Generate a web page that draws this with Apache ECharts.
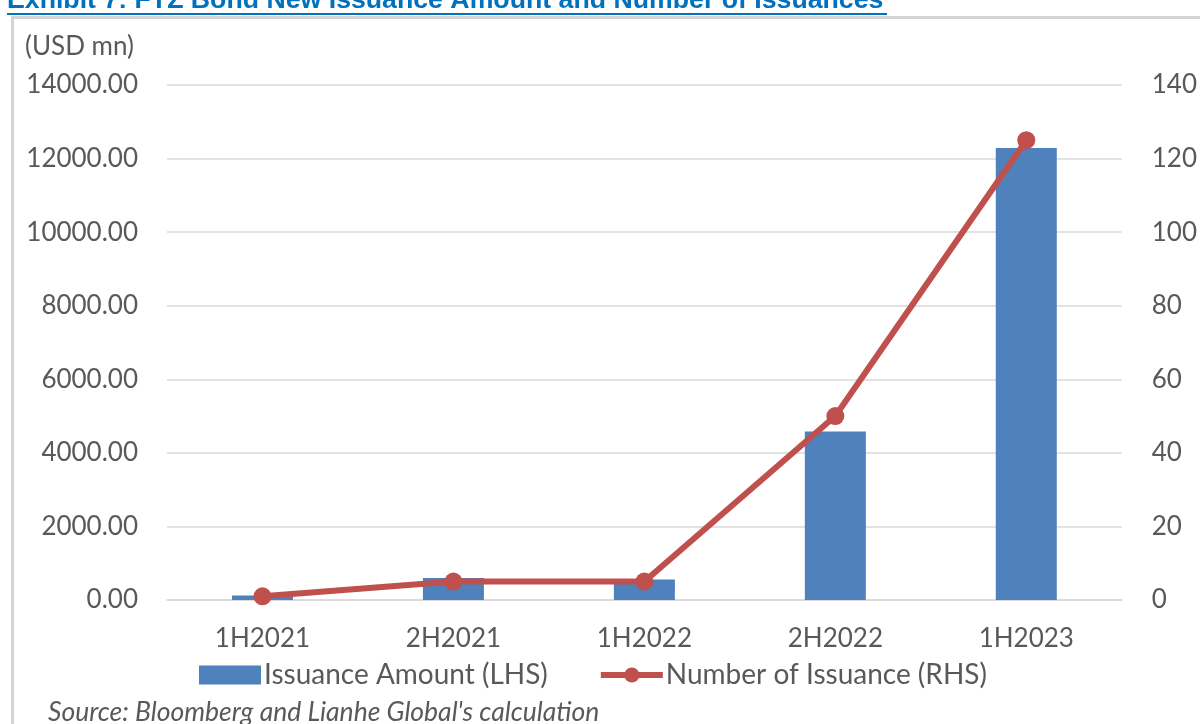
<!DOCTYPE html>
<html><head><meta charset="utf-8">
<script src="https://cdn.jsdelivr.net/npm/echarts@6/dist/echarts.min.js"></script>
<style>html,body{margin:0;padding:0;background:#fff;}#c{width:1200px;height:724px;}</style>
</head><body><div id="c"></div>
<script>
const categories = ['1H2021','2H2021','1H2022','2H2022','1H2023'];
const issuanceAmount = [120, 600, 560, 4580, 12290];
const issuanceCount = [1, 5, 5, 50, 125];
const leftTicks = {min: 0, max: 14000, interval: 2000};
const rightTicks = {min: 0, max: 140, interval: 20};

const FONT = 'Lato';
const GREY = '#595959';
const chart = echarts.init(document.getElementById('c'));
chart.setOption({
  animation: false,
  backgroundColor: '#fff',
  textStyle: {fontFamily: FONT},
  grid: {left: 167, right: 76, top: 85, bottom: 124},
  graphic: [
    {type: 'text', left: 7, top: -13, style: {text: 'Exhibit 7: FTZ Bond New Issuance Amount and Number of Issuances', fill: '#0070C0', font: 'bold 26.7px "Liberation Sans", Arial'}},
    {type: 'rect', shape: {x: 7, y: 13, width: 880, height: 2}, style: {fill: '#0070C0'}},
    {type: 'rect', shape: {x: 12.5, y: 17.5, width: 1200, height: 720}, style: {fill: 'none', stroke: '#d4d4d4', lineWidth: 3}},
    {type: 'text', left: 25, top: 34, style: {text: '(USD mn)', fill: GREY, font: '26px Lato'}},
    {type: 'text', left: 48, top: 699, style: {text: "Source: Bloomberg and Lianhe Global's calculation", fill: GREY, font: 'italic 26.5px Lato'}}
  ],
  legend: {
    left: 194, top: 656, itemWidth: 62, itemHeight: 19, itemGap: 50,
    textStyle: {color: GREY, fontSize: 28, fontFamily: FONT, padding: [0, 0, 0, -2]},
    lineStyle: {width: 6},
    data: [{name: 'Issuance Amount (LHS)', icon: 'rect'}, {name: 'Number of Issuance (RHS)'}]
  },
  xAxis: {
    type: 'category', data: categories,
    axisLine: {show: true, lineStyle: {color: '#d9d9d9', width: 1.5}},
    axisTick: {show: false},
    axisLabel: {color: GREY, fontSize: 26, margin: 26, fontFamily: FONT}
  },
  yAxis: [
    {type: 'value', min: leftTicks.min, max: leftTicks.max, interval: leftTicks.interval,
     axisLabel: {color: GREY, fontSize: 26, margin: 29, fontFamily: FONT, formatter: v => v.toFixed(2)},
     splitLine: {lineStyle: {color: '#d9d9d9', width: 1.5}}, axisLine: {show: false}, axisTick: {show: false}},
    {type: 'value', min: rightTicks.min, max: rightTicks.max, interval: rightTicks.interval,
     axisLabel: {color: GREY, fontSize: 26, margin: 30, fontFamily: FONT},
     splitLine: {show: false}, axisLine: {show: false}, axisTick: {show: false}}
  ],
  series: [
    {name: 'Issuance Amount (LHS)', type: 'bar', data: issuanceAmount, barWidth: 61,
     itemStyle: {color: '#4F81BD'}},
    {name: 'Number of Issuance (RHS)', type: 'line', yAxisIndex: 1, data: issuanceCount,
     symbol: 'circle', symbolSize: 18, lineStyle: {color: '#C0504D', width: 6},
     itemStyle: {color: '#C0504D'}}
  ]
});
</script></body></html>
